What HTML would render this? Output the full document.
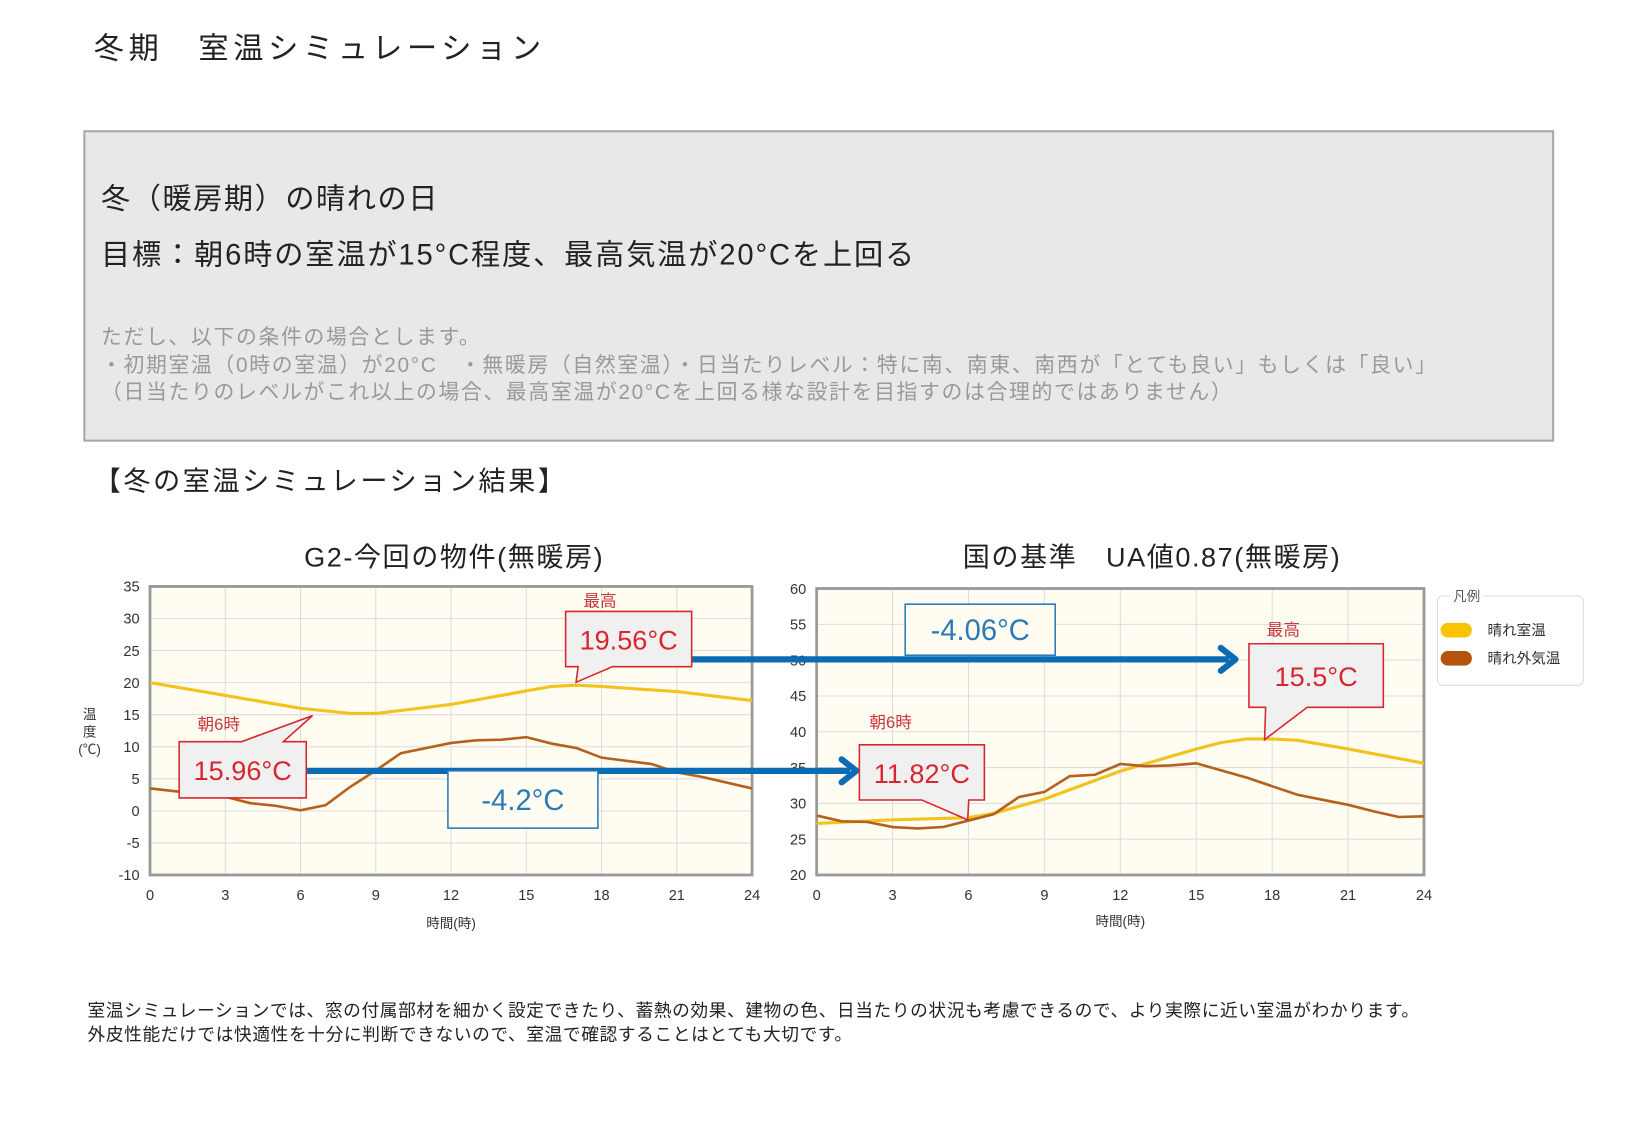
<!DOCTYPE html>
<html><head><meta charset="utf-8"><style>
body{margin:0;background:#fff;}
svg text{font-family:"Liberation Sans","Noto Sans CJK JP",sans-serif;}
</style></head><body>
<svg id="root" width="1625" height="1125" viewBox="0 0 1625 1125" xmlns="http://www.w3.org/2000/svg">
<g transform="scale(1.041667)">
<text x="90" y="56" font-size="29" fill="#222" letter-spacing="4.5">冬期　室温シミュレーション</text>
<rect x="81" y="126" width="1410" height="297" fill="#e8e8e8" stroke="#a8a8a8" stroke-width="2"/>
<text x="97" y="200" font-size="28" fill="#222" letter-spacing="1.5">冬（暖房期）の晴れの日</text>
<text x="97" y="254" font-size="28" fill="#222" letter-spacing="1.8">目標：朝6時の室温が15°C程度、最高気温が20°Cを上回る</text>
<text x="97" y="330" font-size="20" fill="#999" letter-spacing="1.6">ただし、以下の条件の場合とします。</text>
<text x="97" y="357" font-size="20" fill="#999" letter-spacing="1.6">・初期室温（0時の室温）が20°C　・無暖房（自然室温）・日当たりレベル：特に南、南東、南西が「とても良い」もしくは「良い」</text>
<text x="97" y="383" font-size="20" fill="#999" letter-spacing="1.6">（日当たりのレベルがこれ以上の場合、最高室温が20°Cを上回る様な設計を目指すのは合理的ではありません）</text>
<text x="90" y="471" font-size="26" fill="#222" letter-spacing="2.5">【冬の室温シミュレーション結果】</text>
<text x="436" y="544" font-size="26" fill="#222" text-anchor="middle" letter-spacing="1.5">G2-今回の物件(無暖房)</text>
<text x="1106" y="544" font-size="26" fill="#222" text-anchor="middle" letter-spacing="1.5">国の基準　UA値0.87(無暖房)</text>
<g id="c1"></g>
<g id="c2"></g>
<g>
<rect x="1380" y="572" width="140" height="86" rx="5" fill="#fff" stroke="#ddd"/>
<rect x="1392" y="564" width="32" height="14" fill="#fff"/>
<text x="1395" y="577" font-size="13" fill="#555">凡例</text>
<rect x="1383" y="598" width="30" height="14" rx="7" fill="#f8c300"/>
<text x="1428" y="610" font-size="14" fill="#333">晴れ室温</text>
<rect x="1383" y="625" width="30" height="14" rx="7" fill="#b5530c"/>
<text x="1428" y="637" font-size="14" fill="#333">晴れ外気温</text>
</g>
<g id="ann"></g>
<text x="84" y="976" font-size="17" fill="#222" letter-spacing="0.6">室温シミュレーションでは、窓の付属部材を細かく設定できたり、蓄熱の効果、建物の色、日当たりの状況も考慮できるので、より実際に近い室温がわかります。</text>
<text x="84" y="999" font-size="17" fill="#222" letter-spacing="0.6">外皮性能だけでは快適性を十分に判断できないので、室温で確認することはとても大切です。</text>
</g>
</svg>
<script>
const hours1Room=[0,3,6,8,9,12,15,16,17,18,21,24];
const room1=[20,18,16,15.2,15.2,16.6,18.7,19.4,19.6,19.4,18.6,17.2];
const hours1Out=[0,3,4,5,6,7,8,9,10,12,13,14,15,16,17,18,20,21,22,24];
const out1=[3.5,2.2,1.2,0.8,0.1,0.9,3.8,6.3,9,10.6,11,11.1,11.5,10.5,9.8,8.3,7.3,6,5.3,3.5];
const yTicks1=[35,30,25,20,15,10,5,0,-5,-10];
const hours2Room=[0,3,6,7,9,12,15,16,17,18,19,21,24];
const room2=[27.2,27.7,28,28.6,30.6,34.5,37.6,38.5,39,39,38.8,37.6,35.6];
const hours2Out=[0,1,2,3,4,5,6,7,8,9,10,11,12,13,14,15,16,17,18,19,20,21,22,23,24];
const out2=[28.3,27.5,27.4,26.7,26.5,26.7,27.6,28.5,30.9,31.6,33.8,34,35.5,35.2,35.3,35.6,34.6,33.6,32.4,31.2,30.5,29.8,28.9,28.1,28.2];
const yTicks2=[60,55,50,45,40,35,30,25,20];
const xTicks=[0,3,6,9,12,15,18,21,24];
const NS="http://www.w3.org/2000/svg";
function mk(p,t,a){const e=document.createElementNS(NS,t);for(const k in a)e.setAttribute(k,a[k]);p.appendChild(e);return e;}
function chart(g,x0,x1,y0,y1,ymax,ymin,ticks,hr,rm,ho,ou,xlabel,xlabY){
 const sx=h=>x0+(x1-x0)*h/24, sy=v=>y0+(y1-y0)*(ymax-v)/(ymax-ymin);
 const bg=mk(g,'rect',{x:x0,y:y0,width:x1-x0,height:y1-y0,fill:'#fffcf2',stroke:'#999','stroke-width':2.5});
 
 
 ticks.forEach(v=>{const l=mk(g,'line',{x1:x0,x2:x1,y1:sy(v),y2:sy(v),stroke:'#ddd'});
  
  
  const t=mk(g,'text',{x:x0-10,y:sy(v)+5,'font-size':14,fill:'#333','text-anchor':'end'});t.textContent=v;
  
  });
 xTicks.forEach(h=>{mk(g,'line',{x1:sx(h),x2:sx(h),y1:y0,y2:y1,stroke:'#ddd'});
  const t=mk(g,'text',{x:sx(h),y:y1+24,'font-size':14,fill:'#333','text-anchor':'middle'});t.textContent=h;
  
  });
 mk(g,'rect',{x:x0,y:y0,width:x1-x0,height:y1-y0,fill:'none',stroke:'#999','stroke-width':2.5});
 const p1=mk(g,'polyline',{points:hr.map((h,i)=>sx(h)+','+sy(rm[i])).join(' '),fill:'none',stroke:'#f2c31e','stroke-width':3});
 
 
 const p2=mk(g,'polyline',{points:ho.map((h,i)=>sx(h)+','+sy(ou[i])).join(' '),fill:'none',stroke:'#b5601c','stroke-width':2.5});
 
 
 const xl=mk(g,'text',{x:(x0+x1)/2,y:xlabY,'font-size':13,fill:'#333','text-anchor':'middle'});xl.textContent=xlabel;
 
 
}
chart(document.getElementById('c1'),144,722,563,840,35,-10,yTicks1,hours1Room,room1,hours1Out,out1,'時間(時)',891);
chart(document.getElementById('c2'),784,1367,565,840,60,20,yTicks2,hours2Room,room2,hours2Out,out2,'時間(時)',889);
const c1=document.getElementById('c1');
[['温',86,690],['度',86,707]].forEach(a=>{const t=mk(c1,'text',{x:a[1],y:a[2],'font-size':13,fill:'#333','text-anchor':'middle'});t.textContent=a[0];
 
 });
const yu=mk(c1,'text',{x:86,y:724,'font-size':13,fill:'#333','text-anchor':'middle'});yu.textContent='(℃)';


const an=document.getElementById('ann');
function arrow(x1,x2,y,name){const l=mk(an,'line',{x1:x1,x2:x2-6,y1:y,y2:y,stroke:'#0b6cb5','stroke-width':6});
 
 
 mk(an,'polyline',{points:(x2-14)+','+(y-11)+' '+x2+','+y+' '+(x2-14)+','+(y+11),fill:'none',stroke:'#0b6cb5','stroke-width':6,'stroke-linecap':'round','stroke-linejoin':'round'});}
arrow(294,822,740,'arrow-morning');
arrow(664,1186,633,'arrow-peak');
function diffBox(x,y,w,h,txt,name){const r=mk(an,'rect',{x:x,y:y,width:w,height:h,fill:'#fffcf2',stroke:'#2a7ab8','stroke-width':1.5});
 
 
 const t=mk(an,'text',{x:x+w/2,y:y+h/2+10,'font-size':28,fill:'#2a7ab8','text-anchor':'middle'});t.textContent=txt;}
diffBox(430,740,144,55,'-4.2°C','diff-morning-box');
diffBox(869,580,144,49,'-4.06°C','diff-peak-box');
function callout(x,y,w,h,txt,tip,b1,b2,top,label,lx,ly,name){
 let pts;
 if(top){pts=[[x,y],[b1,y],tip,[b2,y],[x+w,y],[x+w,y+h],[x,y+h]];}
 else{pts=[[x,y],[x+w,y],[x+w,y+h],[b2,y+h],tip,[b1,y+h],[x,y+h]];}
 const p=mk(an,'polygon',{points:pts.map(q=>q.join(',')).join(' '),fill:'#f0f0f0',stroke:'#d8262e','stroke-width':1.5});
 
 
 const t=mk(an,'text',{x:x+w/2,y:y+h/2+10,'font-size':26,fill:'#d8262e','text-anchor':'middle'});t.textContent=txt;
 const l=mk(an,'text',{x:lx,y:ly,'font-size':16,fill:'#c8383e','text-anchor':'middle'});l.textContent=label;}
callout(543,587,121,53,'19.56°C',[553,655],555,588,false,'最高',576,582,'callout-g2-peak');
callout(172,712,122,54,'15.96°C',[300,687],232,272,true,'朝6時',210,701,'callout-g2-morning');
callout(1199,618,129,61,'15.5°C',[1214,710],1215,1255,false,'最高',1232,610,'callout-std-peak');
callout(825,715,120,53,'11.82°C',[929,787],885,930,false,'朝6時',855,699,'callout-std-morning');
</script>
</body></html>
